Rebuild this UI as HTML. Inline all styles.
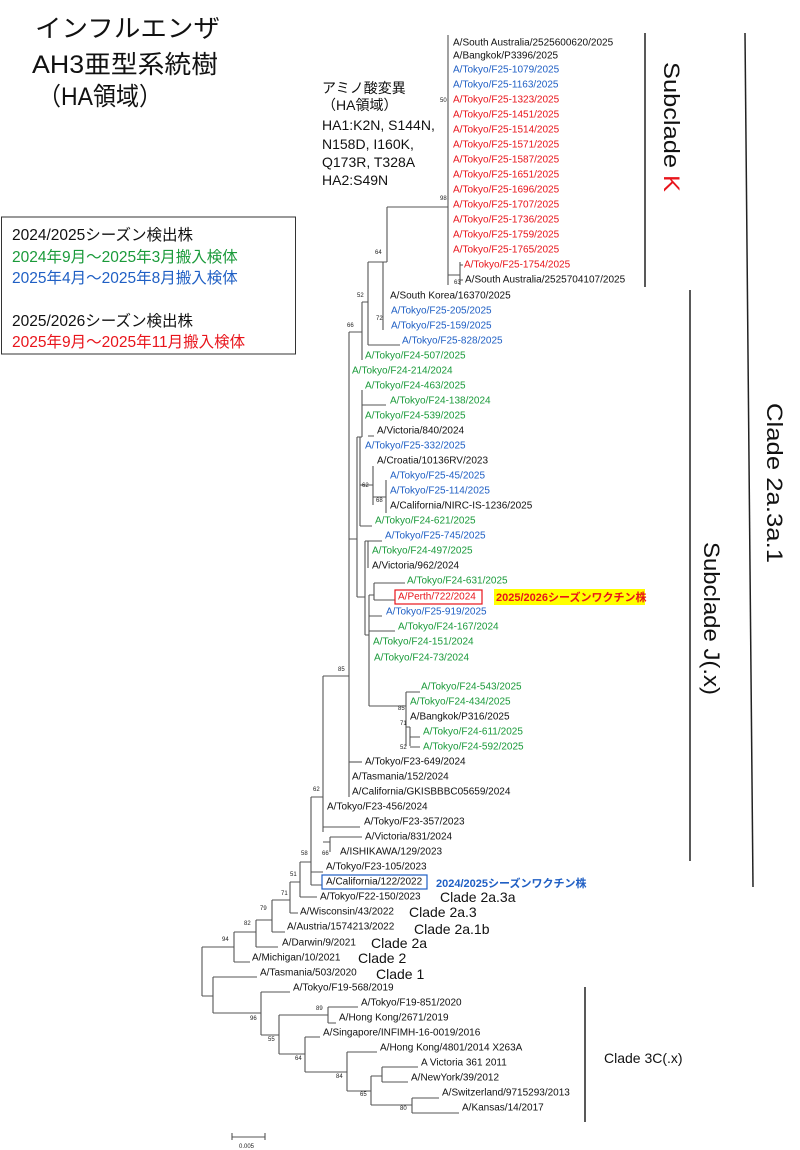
<!DOCTYPE html>
<html><head><meta charset="utf-8"><style>
html,body{margin:0;padding:0;background:#fff;}
svg{display:block;}
.t{font-family:"Liberation Sans","Noto Sans CJK JP",sans-serif;}
.lf{font-size:10px;dominant-baseline:central;}
.b{fill:#1f5fc4}.g{fill:#1a9a3a}.r{fill:#e8141b}.k{fill:#111}
.bs{font-size:6px;fill:#222;}
</style></head><body>
<svg width="800" height="1150" viewBox="0 0 800 1150" xmlns="http://www.w3.org/2000/svg" class="t">
<!-- Title -->
<text x="35" y="37" font-size="25" fill="#111" textLength="185" lengthAdjust="spacingAndGlyphs">インフルエンザ</text>
<text x="32" y="73" font-size="25" fill="#111" textLength="186" lengthAdjust="spacingAndGlyphs">AH3亜型系統樹</text>
<text x="38" y="105" font-size="25" fill="#111" textLength="124" lengthAdjust="spacingAndGlyphs">（HA領域）</text>
<!-- mutation -->
<g font-size="14" fill="#111">
<text x="322" y="93">アミノ酸変異</text>
<text x="322" y="110">（HA領域）</text>
<text x="322" y="130">HA1:K2N, S144N,</text>
<text x="322" y="149">N158D, I160K,</text>
<text x="322" y="167">Q173R, T328A</text>
<text x="322" y="185">HA2:S49N</text>
</g>
<!-- legend -->
<rect x="1.5" y="217" width="294" height="137" fill="none" stroke="#333" stroke-width="1"/>
<g font-size="15.5">
<text x="12" y="240" fill="#111">2024/2025シーズン検出株</text>
<text x="12" y="262" fill="#1a9a3a">2024年9月～2025年3月搬入検体</text>
<text x="12" y="283" fill="#1f5fc4">2025年4月～2025年8月搬入検体</text>
<text x="12" y="326" fill="#111">2025/2026シーズン検出株</text>
<text x="12" y="347" fill="#e8141b">2025年9月～2025年11月搬入検体</text>
</g>
<!-- branches -->
<g stroke="#555" stroke-width="1.1" fill="none">
<path d="M448 35V285M387 207H448M460 262V285M448 275H460M460 265H463M460 280H463"/>
<path d="M387 207V262M368 262H387M383 262V330M368 262V345M368 345H400"/>
<path d="M362 302H368M362 302V360M349 332H362"/>
<path d="M349 332V797M323 676H349"/>
<path d="M357 437V597M349 539H357M357 437H362M362 390V437M362 405H386M360 437V526"/>
<path d="M368 436H374M373 466V505M360 485H373M386 480V513M373 497H386M360 526H372"/>
<path d="M357 597H365M365 541V635M365 541H368M368 541V568M368 541H382"/>
<path d="M365 635H369M369 595V706M369 595H374M374 583V600M374 583H405M374 600H395M369 616H382M369 631H395"/>
<path d="M369 706H406M406 692V746M406 692H420M410 727V746M406 727H410M410 737H420M410 747H420"/>
<path d="M349 762H362"/>
<path d="M323 676V832M311 797H323M323 827H360M323 842H330M330 837V852M330 837H362"/>
<path d="M311 797V885M311 872H323M311 885H322"/>
<path d="M300 862H311M300 862V897M300 897H317"/>
<path d="M290 882H300M290 882V913M290 913H298"/>
<path d="M272 900H290M272 900V932M272 932H285"/>
<path d="M256 920H272M256 920V947M256 947H278"/>
<path d="M234 932H256M234 932V962M234 962H250"/>
<path d="M202 947H234M202 947V996M202 996H213"/>
<path d="M213 977V1013M213 977H257M213 1013H261"/>
<path d="M261 992V1035M261 992H290M261 1035H279"/>
<path d="M279 1015V1054M279 1015H328M328 1007V1023M328 1007H358M328 1023H336"/>
<path d="M279 1054H305M305 1037V1072M305 1037H320M305 1072H347"/>
<path d="M347 1052V1091M347 1052H377M347 1091H371"/>
<path d="M371 1076V1105M371 1076H382M382 1067V1082M382 1067H418M382 1082H408"/>
<path d="M371 1105H412M412 1098V1113M412 1098H439M412 1113H459"/>
<path d="M232 1137H265M232 1133V1140M265 1133V1140"/>
</g>
<!-- bootstrap -->
<g class="bs">
<text x="440" y="200">98</text><text x="440" y="102">50</text><text x="454" y="284">63</text>
<text x="375" y="254">64</text><text x="357" y="297">52</text><text x="376" y="320">72</text>
<text x="347" y="327">66</text><text x="362" y="487">62</text><text x="376" y="502">68</text>
<text x="338" y="671">85</text><text x="398" y="710">85</text><text x="400" y="725">71</text>
<text x="400" y="749">52</text><text x="313" y="791">62</text><text x="322" y="855">66</text>
<text x="301" y="855">58</text><text x="290" y="876">51</text><text x="281" y="895">71</text>
<text x="260" y="910">79</text><text x="244" y="925">82</text><text x="222" y="941">94</text>
<text x="250" y="1020">96</text><text x="268" y="1041">55</text><text x="295" y="1060">64</text>
<text x="336" y="1078">84</text><text x="360" y="1096">65</text><text x="400" y="1110">80</text>
<text x="316" y="1010">89</text><text x="239" y="1148">0.005</text>
</g>
<!-- leaves -->
<g class="lf">
<text x="453" y="43" class="k">A/South Australia/2525600620/2025</text>
<text x="453" y="56" class="k">A/Bangkok/P3396/2025</text>
<text x="453" y="70" class="b">A/Tokyo/F25-1079/2025</text>
<text x="453" y="85" class="b">A/Tokyo/F25-1163/2025</text>
<text x="453" y="100" class="r">A/Tokyo/F25-1323/2025</text>
<text x="453" y="115" class="r">A/Tokyo/F25-1451/2025</text>
<text x="453" y="130" class="r">A/Tokyo/F25-1514/2025</text>
<text x="453" y="145" class="r">A/Tokyo/F25-1571/2025</text>
<text x="453" y="160" class="r">A/Tokyo/F25-1587/2025</text>
<text x="453" y="175" class="r">A/Tokyo/F25-1651/2025</text>
<text x="453" y="190" class="r">A/Tokyo/F25-1696/2025</text>
<text x="453" y="205" class="r">A/Tokyo/F25-1707/2025</text>
<text x="453" y="220" class="r">A/Tokyo/F25-1736/2025</text>
<text x="453" y="235" class="r">A/Tokyo/F25-1759/2025</text>
<text x="453" y="250" class="r">A/Tokyo/F25-1765/2025</text>
<text x="464" y="265" class="r">A/Tokyo/F25-1754/2025</text>
<text x="465" y="280" class="k">A/South Australia/2525704107/2025</text>
<text x="390" y="296" class="k">A/South Korea/16370/2025</text>
<text x="391" y="311" class="b">A/Tokyo/F25-205/2025</text>
<text x="391" y="326" class="b">A/Tokyo/F25-159/2025</text>
<text x="402" y="341" class="b">A/Tokyo/F25-828/2025</text>
<text x="365" y="356" class="g">A/Tokyo/F24-507/2025</text>
<text x="352" y="371" class="g">A/Tokyo/F24-214/2024</text>
<text x="365" y="386" class="g">A/Tokyo/F24-463/2025</text>
<text x="390" y="401" class="g">A/Tokyo/F24-138/2024</text>
<text x="365" y="416" class="g">A/Tokyo/F24-539/2025</text>
<text x="377" y="431" class="k">A/Victoria/840/2024</text>
<text x="365" y="446" class="b">A/Tokyo/F25-332/2025</text>
<text x="377" y="461" class="k">A/Croatia/10136RV/2023</text>
<text x="390" y="476" class="b">A/Tokyo/F25-45/2025</text>
<text x="390" y="491" class="b">A/Tokyo/F25-114/2025</text>
<text x="390" y="506" class="k">A/California/NIRC-IS-1236/2025</text>
<text x="375" y="521" class="g">A/Tokyo/F24-621/2025</text>
<text x="385" y="536" class="b">A/Tokyo/F25-745/2025</text>
<text x="372" y="551" class="g">A/Tokyo/F24-497/2025</text>
<text x="372" y="566" class="k">A/Victoria/962/2024</text>
<text x="407" y="581" class="g">A/Tokyo/F24-631/2025</text>
<text x="398" y="597" class="r">A/Perth/722/2024</text>
<text x="386" y="612" class="b">A/Tokyo/F25-919/2025</text>
<text x="398" y="627" class="g">A/Tokyo/F24-167/2024</text>
<text x="373" y="642" class="g">A/Tokyo/F24-151/2024</text>
<text x="374" y="658" class="g">A/Tokyo/F24-73/2024</text>
<text x="421" y="687" class="g">A/Tokyo/F24-543/2025</text>
<text x="410" y="702" class="g">A/Tokyo/F24-434/2025</text>
<text x="410" y="717" class="k">A/Bangkok/P316/2025</text>
<text x="423" y="732" class="g">A/Tokyo/F24-611/2025</text>
<text x="423" y="747" class="g">A/Tokyo/F24-592/2025</text>
<text x="365" y="762" class="k">A/Tokyo/F23-649/2024</text>
<text x="352" y="777" class="k">A/Tasmania/152/2024</text>
<text x="352" y="792" class="k">A/California/GKISBBBC05659/2024</text>
<text x="327" y="807" class="k">A/Tokyo/F23-456/2024</text>
<text x="364" y="822" class="k">A/Tokyo/F23-357/2023</text>
<text x="365" y="837" class="k">A/Victoria/831/2024</text>
<text x="340" y="852" class="k">A/ISHIKAWA/129/2023</text>
<text x="326" y="867" class="k">A/Tokyo/F23-105/2023</text>
<text x="326" y="882" class="k">A/California/122/2022</text>
<text x="320" y="897" class="k">A/Tokyo/F22-150/2023</text>
<text x="300" y="912" class="k">A/Wisconsin/43/2022</text>
<text x="287" y="927" class="k">A/Austria/1574213/2022</text>
<text x="282" y="943" class="k">A/Darwin/9/2021</text>
<text x="252" y="958" class="k">A/Michigan/10/2021</text>
<text x="260" y="973" class="k">A/Tasmania/503/2020</text>
<text x="293" y="988" class="k">A/Tokyo/F19-568/2019</text>
<text x="361" y="1003" class="k">A/Tokyo/F19-851/2020</text>
<text x="339" y="1018" class="k">A/Hong Kong/2671/2019</text>
<text x="323" y="1033" class="k">A/Singapore/INFIMH-16-0019/2016</text>
<text x="380" y="1048" class="k">A/Hong Kong/4801/2014 X263A</text>
<text x="421" y="1063" class="k">A Victoria 361 2011</text>
<text x="411" y="1078" class="k">A/NewYork/39/2012</text>
<text x="442" y="1093" class="k">A/Switzerland/9715293/2013</text>
<text x="462" y="1108" class="k">A/Kansas/14/2017</text>
</g>
<rect x="395" y="590" width="87" height="14" fill="none" stroke="#e8141b" stroke-width="1.2"/>
<rect x="322" y="875" width="105" height="14" fill="none" stroke="#1f5fc4" stroke-width="1.2"/>
<rect x="494" y="589" width="151" height="16" fill="#ffff00"/>
<text x="496" y="601" font-size="11" font-weight="bold" fill="#e8141b">2025/2026シーズンワクチン株</text>
<text x="436" y="887" font-size="11" font-weight="bold" fill="#1f5fc4">2024/2025シーズンワクチン株</text>
<g font-size="14" fill="#111">
<text x="440" y="902">Clade 2a.3a</text>
<text x="409" y="917">Clade 2a.3</text>
<text x="414" y="934">Clade 2a.1b</text>
<text x="371" y="948">Clade 2a</text>
<text x="358" y="963">Clade 2</text>
<text x="376" y="979">Clade 1</text>
<text x="604" y="1063">Clade 3C(.x)</text>
</g>
<g stroke="#222" stroke-width="1.5">
<line x1="645" y1="33" x2="645" y2="287"/>
<line x1="690" y1="290" x2="690" y2="861"/>
<line x1="745" y1="33" x2="753" y2="887"/>
<line x1="585" y1="987" x2="585" y2="1122"/>
</g>
<g font-size="22" fill="#111">
<text transform="translate(664,62) rotate(90)" textLength="130" lengthAdjust="spacingAndGlyphs">Subclade <tspan fill="#e8141b">K</tspan></text>
<text transform="translate(767,403) rotate(90)" textLength="160" lengthAdjust="spacingAndGlyphs">Clade 2a.3a.1</text>
<text transform="translate(704,542) rotate(90)" textLength="153" lengthAdjust="spacingAndGlyphs">Subclade J(.x)</text>
</g>
</svg>
</body></html>
